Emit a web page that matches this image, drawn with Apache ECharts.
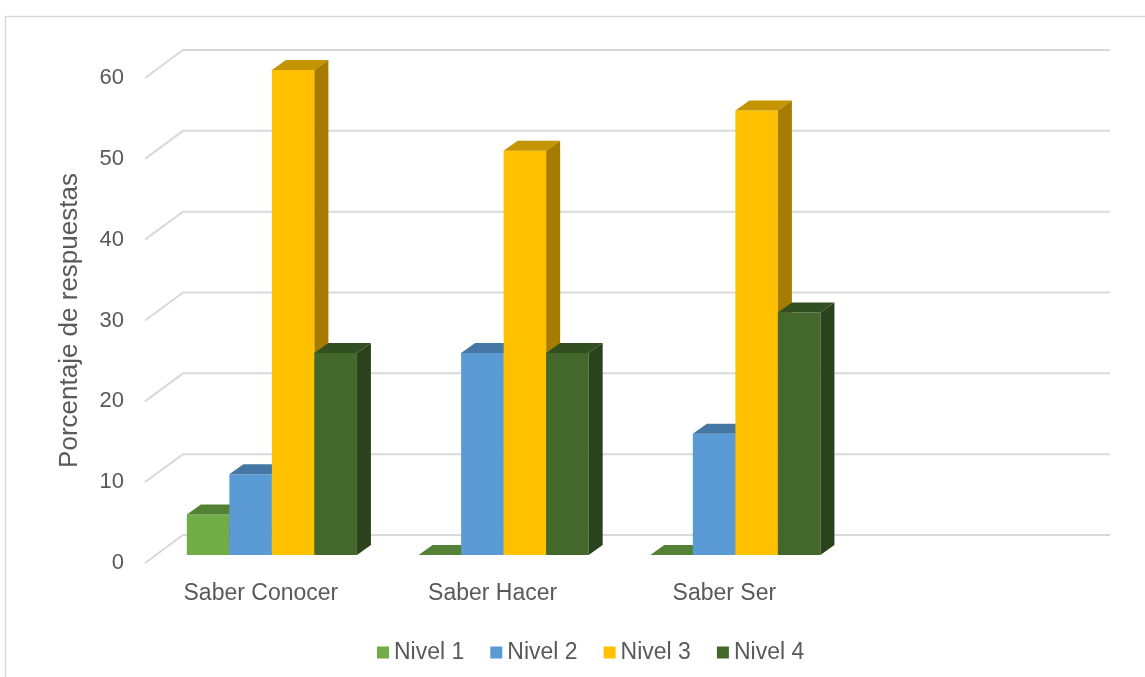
<!DOCTYPE html>
<html>
<head>
	<meta charset="utf-8" />
	<title>Porcentaje de respuestas</title>
	<script type="text/javascript" src="https://cdn.jsdelivr.net/npm/echarts@6/dist/echarts.min.js"></script>
	<style>
		html, body {margin:0;padding:0;background:#fff;}
		#chart {width:1145px;height:677px;}
	</style>
</head>
<body>
	<div id="chart"></div>
	<script>
		var categories = ['Saber Conocer', 'Saber Hacer', 'Saber Ser', ''];
		var seriesNames = ['Nivel 1', 'Nivel 2', 'Nivel 3', 'Nivel 4'];
		var nivel1 = [5, 0, 0];
		var nivel2 = [10, 25, 15];
		var nivel3 = [60, 50, 55];
		var nivel4 = [25, 25, 30];
		var yTicks = [0, 10, 20, 30, 40, 50, 60];

		// front, top, side
		var colors = [
			['#70AD47', '#548235', '#3f6328'],
			['#5B9BD5', '#4577a4', '#3a6590'],
			['#FFC000', '#c49500', '#a57c00'],
			['#44682c', '#314f20', '#2b431c']
		];

		var DX = 38, DY = 28;      // floor depth
		var BX = 11, BY = 8;       // bar plane offset from front
		var SX = 14, SY = 10;      // bar depth
		var textColor = '#595959';
		var font = "'Liberation Sans', Arial, sans-serif";

		var chart = echarts.init(document.getElementById('chart'));

		function gridRender(params, api) {
			var cs = params.coordSys;
			var y = api.coord([0, api.value(1)])[1];
			return {
				type: 'polyline',
				shape: {points: [[cs.x, y], [cs.x + DX, y - DY], [cs.x + cs.width + DX, y - DY]]},
				style: {stroke: '#d9d9d9', lineWidth: 2, fill: null}
			};
		}

		function barRender(j) {
			return function (params, api) {
				var cat = api.value(0);
				var val = api.value(1);
				var top = api.coord([cat, val]);
				var base = api.coord([cat, 0]);
				var band = api.size([1, 0])[0];
				var w = band * 0.1835;
				var xl = top[0] - w * 2 + w * j + BX;
				var yt = top[1] - BY;
				var yb = base[1] - BY;
				var c = colors[j];
				return {
					type: 'group',
					children: [
						{type: 'rect', shape: {x: xl, y: yt, width: w, height: yb - yt}, style: {fill: c[0]}},
						{type: 'polygon', shape: {points: [[xl, yt], [xl + w, yt], [xl + w + SX, yt - SY], [xl + SX, yt - SY]]}, style: {fill: c[1]}},
						{type: 'polygon', shape: {points: [[xl + w, yt], [xl + w + SX, yt - SY], [xl + w + SX, yb - SY], [xl + w, yb]]}, style: {fill: c[2]}}
					]
				};
			};
		}

		var values = [nivel1, nivel2, nivel3, nivel4];

		var series = [{
			type: 'custom',
			name: 'grid',
			silent: true,
			clip: false,
			z: 1,
			renderItem: gridRender,
			data: yTicks.map(function (v) { return [0, v]; })
		}];

		values.forEach(function (arr, j) {
			series.push({
				type: 'custom',
				name: seriesNames[j],
				clip: false,
				z: 2,
				itemStyle: {color: colors[j][0]},
				renderItem: barRender(j),
				data: arr.map(function (v, i) { return [i, v]; })
			});
		});

		var option = {
			animation: false,
			textStyle: {fontFamily: font},
			graphic: [{
				type: 'rect',
				left: 3, top: 14,
				shape: {width: 1200, height: 700},
				style: {fill: null, stroke: '#d9d9d9', lineWidth: 1.5},
				silent: true,
				z: -10
			}],
			grid: {
				left: 145,
				right: 73,
				top: 78,
				bottom: 114
			},
			legend: {
				data: seriesNames,
				left: 372,
				top: 636,
				icon: 'rect',
				itemWidth: 12,
				itemHeight: 12,
				itemGap: 26,
				textStyle: {color: textColor, fontSize: 23, fontFamily: font}
			},
			xAxis: {
				type: 'category',
				data: categories,
				axisLine: {show: false},
				axisTick: {show: false},
				axisLabel: {color: textColor, fontSize: 23, margin: 19, fontFamily: font}
			},
			yAxis: {
				type: 'value',
				min: 0,
				max: 60,
				interval: 10,
				name: 'Porcentaje de respuestas',
				nameLocation: 'middle',
				nameRotate: 90,
				nameGap: 62,
				nameTextStyle: {color: textColor, fontSize: 26, fontFamily: font},
				axisLine: {show: false},
				axisTick: {show: false},
				splitLine: {show: false},
				axisLabel: {color: textColor, fontSize: 22, margin: 21, fontFamily: font}
			},
			series: series
		};

		chart.setOption(option);
	</script>
</body>
</html>
